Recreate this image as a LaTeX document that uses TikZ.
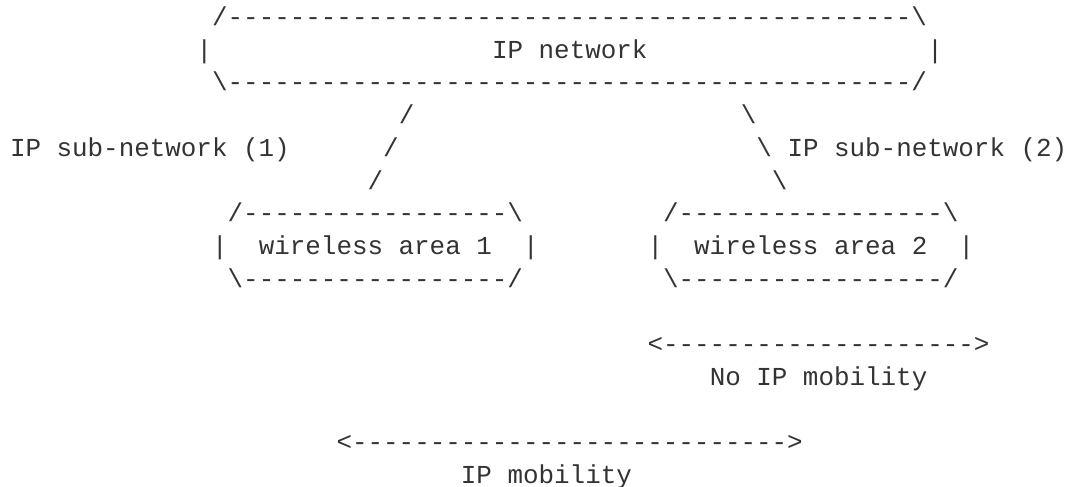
\documentclass[tikz,border=0pt]{standalone}
\usepackage{fontspec}
\setmonofont{Liberation Mono}
\definecolor{ink}{HTML}{333333}
\newcommand\asciifont{\ttfamily\fontsize{25.9}{32.7}\selectfont}
\newcommand\dsh[1]{\foreach\k in {1,...,#1}{-}}
\newcommand\bsl{\textbackslash}
% column / row placement
\newcommand\colx[1]{10+#1*15.55}
\newcommand\rowy[1]{-(254.5+(#1-8)*32.7)}
\tikzset{txt/.style={anchor=base west, inner sep=0pt, outer sep=0pt, text=ink, font=\asciifont}}
\newcommand\asciiat[4]{\node[txt] (#1) at ({\colx{#2}},{\rowy{#3}}) {#4};}
\begin{document}
\begin{tikzpicture}[x=1pt,y=1pt]
\useasboundingbox (0,0) rectangle (1071,-487);
% IP network box
\asciiat{nettop}{13}{1}{/\dsh{44}\bsl}
\asciiat{netl}{12}{2}{|}
\asciiat{net}{31}{2}{IP network}
\asciiat{netr}{59}{2}{|}
\asciiat{netbot}{13}{3}{\bsl\dsh{44}/}
% links
\asciiat{la}{25}{4}{/}
\asciiat{ra}{47}{4}{\bsl}
\asciiat{sub1}{0}{5}{IP sub-network (1)}
\asciiat{lb}{24}{5}{/}
\asciiat{rb}{48}{5}{\bsl}
\asciiat{sub2}{50}{5}{IP sub-network (2)}
\asciiat{lc}{23}{6}{/}
\asciiat{rc}{49}{6}{\bsl}
% wireless areas
\asciiat{waAt}{14}{7}{/\dsh{17}\bsl}
\asciiat{waBt}{42}{7}{/\dsh{17}\bsl}
\asciiat{waAl}{13}{8}{|}
\asciiat{waA}{16}{8}{wireless area 1}
\asciiat{waAr}{33}{8}{|}
\asciiat{waBl}{41}{8}{|}
\asciiat{waB}{44}{8}{wireless area 2}
\asciiat{waBr}{61}{8}{|}
\asciiat{waAb}{14}{9}{\bsl\dsh{17}/}
\asciiat{waBb}{42}{9}{\bsl\dsh{17}/}
% mobility ranges
\asciiat{nomob}{41}{11}{<\dsh{20}>}
\asciiat{nomobt}{45}{12}{No IP mobility}
\asciiat{mob}{21}{14}{<\dsh{28}>}
\asciiat{mobt}{29}{15}{IP mobility}
\end{tikzpicture}
\end{document}
